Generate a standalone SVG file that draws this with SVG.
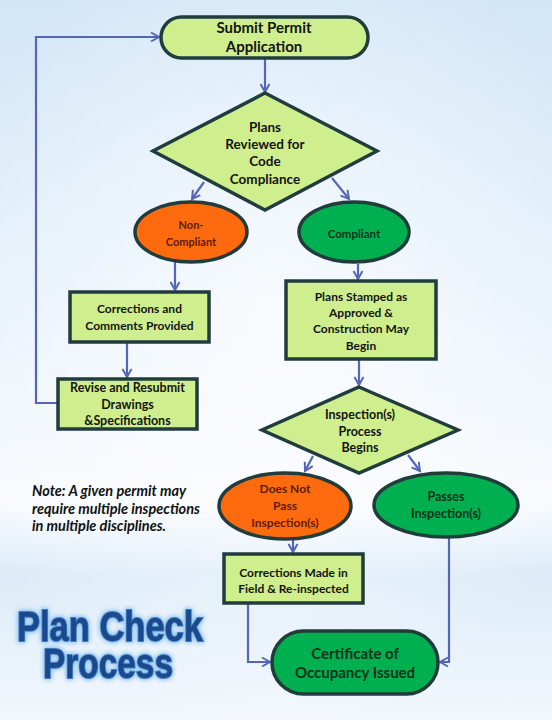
<svg xmlns="http://www.w3.org/2000/svg" width="552" height="720" viewBox="0 0 552 720">
<defs>
<linearGradient id="bg" x1="0" y1="0" x2="0" y2="1">
<stop offset="0" stop-color="#d2e6f7"/>
<stop offset="0.35" stop-color="#e4f0fa"/>
<stop offset="0.62" stop-color="#f3f8fd"/>
<stop offset="0.7" stop-color="#f8fbfe"/>
<stop offset="0.8" stop-color="#dcebf8"/>
<stop offset="0.92" stop-color="#eaf3fb"/>
<stop offset="1" stop-color="#f2f7fc"/>
</linearGradient>
<radialGradient id="glow" cx="0.5" cy="0.45" r="0.6">
<stop offset="0" stop-color="#ffffff" stop-opacity="0.7"/>
<stop offset="1" stop-color="#ffffff" stop-opacity="0"/>
</radialGradient>
<marker id="arr" markerUnits="userSpaceOnUse" markerWidth="12" markerHeight="12" refX="9" refY="5" orient="auto" viewBox="0 0 12 10">
<path d="M1,0.5 L9,5 L1,9.5" fill="none" stroke="#5566b8" stroke-width="2"/>
</marker>
<filter id="tglow" x="-10%" y="-20%" width="120%" height="140%">
<feGaussianBlur in="SourceAlpha" stdDeviation="2.5" result="b"/>
<feFlood flood-color="#8fc3f0"/>
<feComposite in2="b" operator="in" result="g"/>
<feMerge><feMergeNode in="g"/><feMergeNode in="g"/><feMergeNode in="SourceGraphic"/></feMerge>
</filter>
</defs>
<style>
.lg{fill:#cfee8e;stroke:#213c3c;stroke-width:3.5}
.or{fill:#fe6a0e;stroke:#213c3c;stroke-width:3.5}
.gr{fill:#00b050;stroke:#213c3c;stroke-width:3.5}
.t{font-family:Lato,"Liberation Sans",sans-serif;font-weight:bold;font-size:13px;fill:#141414;text-anchor:middle;dominant-baseline:central}
.ts{font-size:12px}
.tx{font-size:11px}
.tor{fill:#5c1a05}
.tgr{fill:#0c3318}
.c{fill:none;stroke:#5566b8;stroke-width:2.2}
.note{font-family:Lato,"Liberation Sans",sans-serif;font-weight:bold;font-style:italic;font-size:14.5px;fill:#111}
.title{font-family:"Liberation Sans",Arial,sans-serif;font-weight:bold;font-size:42px;fill:#1a4a8c;stroke:#3f7fc4;stroke-width:2;paint-order:stroke;text-anchor:middle}
</style>
<rect width="552" height="720" fill="url(#bg)"/>
<rect width="552" height="720" fill="url(#glow)"/>

<g id="connectors">
<path class="c" d="M265,59 V92" marker-end="url(#arr)"/>
<path class="c" d="M204,182 L192,199" marker-end="url(#arr)"/>
<path class="c" d="M332,178 L349,199" marker-end="url(#arr)"/>
<path class="c" d="M175,262 V290" marker-end="url(#arr)"/>
<path class="c" d="M127,343 V377" marker-end="url(#arr)"/>
<path class="c" d="M57,403 H36 V37 H159" marker-end="url(#arr)"/>
<path class="c" d="M358,264 V279" marker-end="url(#arr)"/>
<path class="c" d="M359,360 V385" marker-end="url(#arr)"/>
<path class="c" d="M313,456 L305,471" marker-end="url(#arr)"/>
<path class="c" d="M408,455 L420,471" marker-end="url(#arr)"/>
<path class="c" d="M293,540 V552" marker-end="url(#arr)"/>
<path class="c" d="M248,604 V662 H270" marker-end="url(#arr)"/>
<path class="c" d="M449,538 V662 H440" marker-end="url(#arr)"/>
</g>

<g id="submit">
<rect class="lg" x="161" y="17" width="207" height="41" rx="20.5"/>
<text class="t" x="264" y="27" style="font-size:15px">Submit Permit</text>
<text class="t" x="264" y="46" style="font-size:15px">Application</text>
</g>

<g id="review">
<polygon class="lg" points="265,93 377,151 265,210 153,151"/>
<text class="t" x="265" y="127" style="font-size:13.5px">Plans</text>
<text class="t" x="265" y="144" style="font-size:13.5px">Reviewed for</text>
<text class="t" x="265" y="161" style="font-size:13.5px">Code</text>
<text class="t" x="265" y="179" style="font-size:13.5px">Compliance</text>
</g>

<g id="noncompliant">
<ellipse class="or" cx="191" cy="232" rx="56" ry="30"/>
<text class="t tx tor" x="191" y="224">Non-</text>
<text class="t tx tor" x="191" y="241">Compliant</text>
</g>

<g id="compliant">
<ellipse class="gr" cx="354" cy="232" rx="55" ry="30"/>
<text class="t tgr" x="354" y="233" style="font-size:11.5px">Compliant</text>
</g>

<g id="corrections">
<rect class="lg" x="70" y="292" width="139" height="50"/>
<text class="t ts" x="139.5" y="308">Corrections and</text>
<text class="t ts" x="139.5" y="325">Comments Provided</text>
</g>

<g id="revise">
<rect class="lg" x="58" y="379" width="139" height="50"/>
<text class="t" x="127.5" y="387" style="font-size:12.5px">Revise and Resubmit</text>
<text class="t" x="127.5" y="404" style="font-size:12.5px">Drawings</text>
<text class="t" x="127.5" y="420" style="font-size:12.5px">&amp;Specifications</text>
</g>

<g id="stamped">
<rect class="lg" x="286" y="281" width="150" height="78"/>
<text class="t ts" x="361" y="296">Plans Stamped as</text>
<text class="t ts" x="361" y="312">Approved &amp;</text>
<text class="t ts" x="361" y="328">Construction May</text>
<text class="t ts" x="361" y="345">Begin</text>
</g>

<g id="inspection">
<polygon class="lg" points="359,387 458,430 359,473 262,430"/>
<text class="t" x="360" y="414" style="font-size:12.5px">Inspection(s)</text>
<text class="t" x="360" y="431" style="font-size:12.5px">Process</text>
<text class="t" x="360" y="447" style="font-size:12.5px">Begins</text>
</g>

<g id="doesnotpass">
<ellipse class="or" cx="285" cy="506" rx="66" ry="33"/>
<text class="t ts tor" x="285" y="488">Does Not</text>
<text class="t ts tor" x="285" y="505">Pass</text>
<text class="t ts tor" x="285" y="522">Inspection(s)</text>
</g>

<g id="passes">
<ellipse class="gr" cx="446" cy="505" rx="72" ry="32"/>
<text class="t tgr" x="446" y="496" style="font-size:12.5px">Passes</text>
<text class="t tgr" x="446" y="513" style="font-size:12.5px">Inspection(s)</text>
</g>

<g id="fieldcorrections">
<rect class="lg" x="224" y="554" width="139" height="49"/>
<text class="t ts" x="293.5" y="572">Corrections Made in</text>
<text class="t ts" x="293.5" y="588">Field &amp; Re-inspected</text>
</g>

<g id="certificate">
<rect class="gr" x="272" y="631" width="166" height="63" rx="31.5"/>
<text class="t tgr" x="355" y="653" style="font-size:15px">Certificate of</text>
<text class="t tgr" x="355" y="672" style="font-size:15px">Occupancy Issued</text>
</g>

<g id="note">
<text class="note" x="32" y="496">Note: A given permit may</text>
<text class="note" x="32" y="514">require multiple inspections</text>
<text class="note" x="32" y="531">in multiple disciplines.</text>
</g>

<g id="title" filter="url(#tglow)">
<text class="title" x="110" y="641" textLength="186" lengthAdjust="spacingAndGlyphs">Plan Check</text>
<text class="title" x="108" y="678" textLength="130" lengthAdjust="spacingAndGlyphs">Process</text>
</g>
</svg>
